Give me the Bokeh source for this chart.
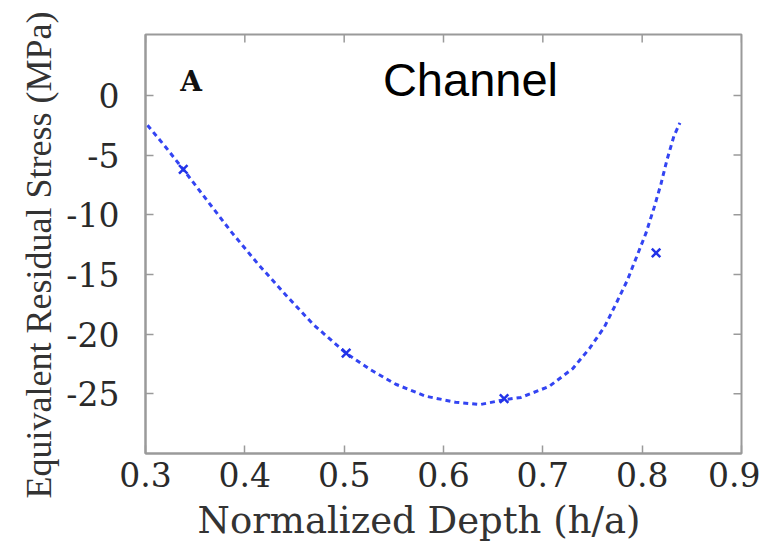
import math
from bokeh.plotting import figure
from bokeh.models import Range1d, FixedTicker, LinearAxis, Label, Title
from bokeh.embed import file_html
from bokeh.resources import INLINE

# Measured points (x markers)
depth = [0.338, 0.502, 0.661, 0.814]
stress = [-6.2, -21.6, -25.4, -13.2]

# Dashed fitted curve
fit_depth = [0.302, 0.320, 0.338, 0.362, 0.387, 0.413, 0.441, 0.469, 0.502, 0.527,
             0.552, 0.582, 0.612, 0.637, 0.661, 0.678, 0.706, 0.730, 0.747, 0.762,
             0.774, 0.785, 0.795, 0.804, 0.812, 0.819, 0.825, 0.832, 0.838]
fit_stress = [-2.5, -4.3, -6.2, -8.8, -11.5, -14.1, -16.7, -19.2, -21.6, -23.0,
              -24.2, -25.2, -25.7, -25.9, -25.5, -25.3, -24.4, -22.9, -21.2, -19.4,
              -17.4, -15.5, -13.4, -11.5, -9.4, -7.4, -5.4, -3.4, -2.3]

x_ticks = [0.3, 0.4, 0.5, 0.6, 0.7, 0.8, 0.9]
x_tick_labels = ["0.3", "0.4", "0.5", "0.6", "0.7", "0.8", "0.9"]
y_ticks = [0, -5, -10, -15, -20, -25]
y_tick_labels = ["0", "-5", "-10", "-15", "-20", "-25"]

X0, X1 = 0.3, 0.9
Y0, Y1 = -30, 5.1
FW, FH = 596, 419
TICK_PX = 8

AX = "#9a9a9a"
TXT = "#2a2a2a"

p = figure(frame_width=FW, frame_height=FH, output_backend="svg", toolbar_location=None,
           x_range=Range1d(X0, X1), y_range=Range1d(Y0, Y1),
           min_border_left=145, min_border_right=19, min_border_top=34,
           min_border_bottom=92, x_axis_location=None, y_axis_location=None)
p.grid.visible = False
p.outline_line_color = AX
p.outline_line_width = 2
p.background_fill_color = "white"
p.border_fill_color = "white"


def style(ax):
    ax.axis_line_color = AX
    ax.axis_line_width = 2
    ax.major_tick_line_color = AX
    ax.major_tick_line_width = 1.5
    ax.major_tick_in = TICK_PX
    ax.major_tick_out = 0
    ax.minor_tick_line_color = None
    ax.major_label_text_font = "DejaVu Serif"
    ax.major_label_text_font_size = "33px"
    ax.major_label_text_color = TXT


xb = LinearAxis(ticker=FixedTicker(ticks=x_ticks),
                major_label_overrides=dict(zip(x_ticks, x_tick_labels)))
style(xb)
xb.major_label_standoff = 8
p.add_layout(xb, "below")

yl = LinearAxis(ticker=FixedTicker(ticks=y_ticks),
                major_label_overrides=dict(zip(y_ticks, y_tick_labels)))
style(yl)
yl.major_label_standoff = 26
p.add_layout(yl, "left")

# axis titles as Title panels (not clipped, can be offset)
p.add_layout(Title(text="Normalized Depth (h/a)", align="left", offset=52,
                   standoff=14, text_font="DejaVu Serif", text_font_size="37px",
                   text_font_style="normal", text_color="#333333"), "below")
p.add_layout(Title(text="Equivalent Residual Stress (MPa)", align="left", offset=-45,
                   standoff=9, text_font="Liberation Serif", text_font_size="36px",
                   text_font_style="normal", text_color="#333333"), "left")

# inward ticks on the top and right edges of the frame
dy = TICK_PX * (Y1 - Y0) / FH
dx = TICK_PX * (X1 - X0) / FW
p.segment(x0=x_ticks, y0=[Y1] * len(x_ticks), x1=x_ticks, y1=[Y1 - dy] * len(x_ticks),
          line_color=AX, line_width=1.5)
p.segment(x0=[X1] * len(y_ticks), y0=y_ticks, x1=[X1 - dx] * len(y_ticks), y1=y_ticks,
          line_color=AX, line_width=1.5)

p.line(fit_depth, fit_stress, line_color="#3344f2", line_width=3, line_dash="5 4")
p.scatter(depth, stress, marker="x", size=12, line_color="#2233e8", line_width=2.5)

p.add_layout(Label(x=0.335, y=1.17, text="A", text_font="DejaVu Serif",
                   text_font_style="bold", text_font_size="28px",
                   text_color="#111111", text_baseline="alphabetic"))
p.add_layout(Label(x=0.539, y=1.34, text="Channel", text_font="Liberation Sans",
                   text_font_size="47px", text_color="black",
                   text_baseline="alphabetic"))
p.add_layout(Label(x=-110, y=-87, x_units="screen", y_units="screen", text=")",
                   angle=math.pi / 2, text_font="Liberation Serif",
                   text_font_size="40px", text_color="#333333",
                   text_align="center", text_baseline="middle", level="overlay"))

open("out.html", "w").write(file_html(p, INLINE))
